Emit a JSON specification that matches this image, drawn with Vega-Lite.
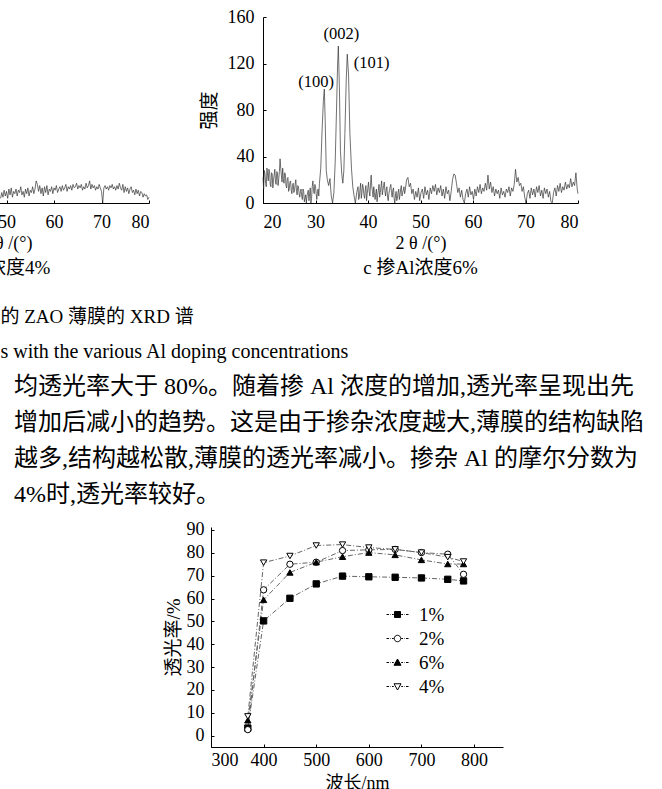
{
"$schema": "https://vega.github.io/schema/vega-lite/v6.json",
"background": "white",
"padding": {"left": -137, "top": 8, "right": 0, "bottom": 0},
"bounds": "flush",
"spacing": 510,
"config": {
  "view": {"stroke": null},
  "axis": {"grid": false, "domainColor": "black", "domainWidth": 1, "tickColor": "black", "tickSize": -3, "labelColor": "black", "labelFont": "Liberation Serif", "labelFontSize": 18, "labelOverlap": false, "titleColor": "black", "titleFont": "Liberation Serif, Noto Sans CJK SC", "titleFontWeight": "normal", "titleFontSize": 18},
  "title": {"color": "black", "subtitleColor": "black", "fontWeight": "normal", "font": "Liberation Serif, Noto Sans CJK SC"}
},
"datasets": {
  "xrdc": [{"t":20,"i":22},{"t":20.25,"i":28},{"t":20.5,"i":17},{"t":20.75,"i":30},{"t":21,"i":19},{"t":21.25,"i":27},{"t":21.5,"i":14},{"t":21.75,"i":25},{"t":22,"i":20},{"t":22.25,"i":29},{"t":22.5,"i":16},{"t":22.75,"i":26},{"t":23,"i":21},{"t":23.25,"i":38},{"t":23.5,"i":24},{"t":23.75,"i":30},{"t":24,"i":17},{"t":24.25,"i":25},{"t":24.5,"i":13},{"t":24.75,"i":22},{"t":25,"i":12},{"t":25.25,"i":19},{"t":25.5,"i":8},{"t":25.75,"i":17},{"t":26,"i":11},{"t":26.25,"i":20},{"t":26.5,"i":7},{"t":26.75,"i":14},{"t":27,"i":5},{"t":27.25,"i":12},{"t":27.5,"i":3},{"t":27.75,"i":10},{"t":28,"i":4},{"t":28.25,"i":0},{"t":28.5,"i":9},{"t":28.75,"i":2},{"t":29,"i":13},{"t":29.25,"i":4},{"t":29.5,"i":19},{"t":29.75,"i":8},{"t":30,"i":14},{"t":30.25,"i":3},{"t":30.5,"i":12},{"t":30.75,"i":17},{"t":31,"i":30},{"t":31.25,"i":62},{"t":31.5,"i":88},{"t":31.68,"i":98},{"t":31.85,"i":70},{"t":32.05,"i":28},{"t":32.25,"i":20},{"t":32.5,"i":15},{"t":32.75,"i":21},{"t":33,"i":6},{"t":33.25,"i":0},{"t":33.5,"i":9},{"t":33.75,"i":35},{"t":34,"i":80},{"t":34.2,"i":118},{"t":34.35,"i":135},{"t":34.55,"i":100},{"t":34.75,"i":45},{"t":35,"i":25},{"t":35.2,"i":17},{"t":35.4,"i":28},{"t":35.6,"i":60},{"t":35.85,"i":105},{"t":36.05,"i":128},{"t":36.3,"i":110},{"t":36.55,"i":60},{"t":36.85,"i":30},{"t":37.1,"i":14},{"t":37.35,"i":6},{"t":37.6,"i":0},{"t":37.85,"i":9},{"t":38.1,"i":14},{"t":38.35,"i":5},{"t":38.6,"i":17},{"t":38.85,"i":9},{"t":39.1,"i":13},{"t":39.35,"i":4},{"t":39.6,"i":15},{"t":39.85,"i":8},{"t":40.1,"i":18},{"t":40.35,"i":6},{"t":40.6,"i":24},{"t":40.85,"i":10},{"t":41.1,"i":14},{"t":41.35,"i":3},{"t":41.6,"i":12},{"t":41.85,"i":7},{"t":42.1,"i":16},{"t":42.35,"i":9},{"t":42.6,"i":19},{"t":42.85,"i":11},{"t":43.1,"i":18},{"t":43.35,"i":6},{"t":43.6,"i":14},{"t":43.85,"i":2},{"t":44.1,"i":11},{"t":44.35,"i":16},{"t":44.6,"i":5},{"t":44.85,"i":13},{"t":45.1,"i":0},{"t":45.35,"i":10},{"t":45.6,"i":4},{"t":45.85,"i":12},{"t":46.1,"i":7},{"t":46.35,"i":15},{"t":46.6,"i":9},{"t":46.85,"i":14},{"t":47.1,"i":11},{"t":47.35,"i":20},{"t":47.6,"i":22},{"t":47.85,"i":14},{"t":48.1,"i":17},{"t":48.35,"i":8},{"t":48.6,"i":12},{"t":48.85,"i":3},{"t":49.1,"i":10},{"t":49.35,"i":5},{"t":49.6,"i":13},{"t":49.85,"i":2},{"t":50.1,"i":9},{"t":50.35,"i":12},{"t":50.6,"i":4},{"t":50.85,"i":14},{"t":51.1,"i":7},{"t":51.35,"i":11},{"t":51.6,"i":3},{"t":51.85,"i":13},{"t":52.1,"i":8},{"t":52.35,"i":15},{"t":52.6,"i":10},{"t":52.85,"i":16},{"t":53.1,"i":7},{"t":53.35,"i":13},{"t":53.6,"i":9},{"t":53.85,"i":15},{"t":54.1,"i":6},{"t":54.35,"i":12},{"t":54.6,"i":4},{"t":54.85,"i":14},{"t":55.1,"i":8},{"t":55.35,"i":11},{"t":55.6,"i":2},{"t":55.85,"i":10},{"t":56.1,"i":20},{"t":56.35,"i":25},{"t":56.6,"i":24},{"t":56.85,"i":17},{"t":57.1,"i":9},{"t":57.35,"i":13},{"t":57.6,"i":5},{"t":57.85,"i":11},{"t":58.1,"i":3},{"t":58.35,"i":0},{"t":58.6,"i":8},{"t":58.85,"i":12},{"t":59.1,"i":5},{"t":59.35,"i":14},{"t":59.6,"i":7},{"t":59.85,"i":10},{"t":60.1,"i":3},{"t":60.35,"i":12},{"t":60.6,"i":6},{"t":60.85,"i":14},{"t":61.1,"i":9},{"t":61.35,"i":16},{"t":61.6,"i":8},{"t":61.85,"i":13},{"t":62.1,"i":10},{"t":62.35,"i":17},{"t":62.6,"i":11},{"t":62.85,"i":24},{"t":63.1,"i":12},{"t":63.35,"i":18},{"t":63.6,"i":9},{"t":63.85,"i":14},{"t":64.1,"i":6},{"t":64.35,"i":12},{"t":64.6,"i":8},{"t":64.85,"i":11},{"t":65.1,"i":4},{"t":65.35,"i":13},{"t":65.6,"i":7},{"t":65.85,"i":10},{"t":66.1,"i":5},{"t":66.35,"i":12},{"t":66.6,"i":9},{"t":66.85,"i":14},{"t":67.1,"i":6},{"t":67.35,"i":13},{"t":67.6,"i":10},{"t":67.85,"i":16},{"t":68.1,"i":29},{"t":68.35,"i":18},{"t":68.6,"i":22},{"t":68.85,"i":15},{"t":69.1,"i":17},{"t":69.35,"i":10},{"t":69.6,"i":14},{"t":69.85,"i":5},{"t":70.1,"i":0},{"t":70.35,"i":8},{"t":70.6,"i":11},{"t":70.85,"i":4},{"t":71.1,"i":13},{"t":71.35,"i":7},{"t":71.6,"i":12},{"t":71.85,"i":5},{"t":72.1,"i":14},{"t":72.35,"i":9},{"t":72.6,"i":15},{"t":72.85,"i":6},{"t":73.1,"i":11},{"t":73.35,"i":4},{"t":73.6,"i":13},{"t":73.85,"i":8},{"t":74.1,"i":12},{"t":74.35,"i":5},{"t":74.6,"i":10},{"t":74.85,"i":1},{"t":75.1,"i":0},{"t":75.35,"i":9},{"t":75.6,"i":13},{"t":75.85,"i":6},{"t":76.1,"i":15},{"t":76.35,"i":10},{"t":76.6,"i":17},{"t":76.85,"i":9},{"t":77.1,"i":14},{"t":77.35,"i":11},{"t":77.6,"i":18},{"t":77.85,"i":12},{"t":78.1,"i":16},{"t":78.35,"i":13},{"t":78.6,"i":21},{"t":78.85,"i":14},{"t":79.1,"i":18},{"t":79.35,"i":15},{"t":79.6,"i":26},{"t":79.85,"i":12},{"t":80,"i":8},
    {"t":20.125,"i":12},{"t":20.375,"i":25},{"t":20.625,"i":14},{"t":20.875,"i":24},{"t":21.125,"i":29},{"t":21.375,"i":16},{"t":21.625,"i":26},{"t":21.875,"i":13},{"t":22.125,"i":24},{"t":22.375,"i":18},{"t":22.625,"i":27},{"t":22.875,"i":15},{"t":23.125,"i":27},{"t":23.375,"i":30},{"t":23.625,"i":18},{"t":23.875,"i":21},{"t":24.125,"i":26},{"t":24.375,"i":15},{"t":24.625,"i":21},{"t":24.875,"i":10},{"t":25.125,"i":18},{"t":25.375,"i":11},{"t":25.625,"i":15},{"t":25.875,"i":9},{"t":26.125,"i":16},{"t":26.375,"i":10},{"t":26.625,"i":15},{"t":26.875,"i":8},{"t":27.125,"i":10},{"t":27.375,"i":6},{"t":27.625,"i":12},{"t":27.875,"i":1},{"t":28.125,"i":7},{"t":28.375,"i":6},{"t":28.625,"i":11},{"t":28.875,"i":8},{"t":29.125,"i":0},{"t":29.375,"i":14},{"t":29.625,"i":11},{"t":29.875,"i":16},{"t":30.125,"i":8},{"t":30.375,"i":10},{"t":30.625,"i":6},
    {"t":38.225,"i":3},{"t":38.475,"i":12},{"t":38.725,"i":4},{"t":38.975,"i":16},{"t":39.225,"i":7},{"t":39.475,"i":11},{"t":39.725,"i":2},{"t":39.975,"i":13},{"t":40.225,"i":10},{"t":40.475,"i":15},{"t":40.725,"i":14},{"t":40.975,"i":5},{"t":41.225,"i":9},{"t":41.475,"i":8},{"t":41.725,"i":1},{"t":41.975,"i":11},{"t":42.225,"i":5},{"t":42.475,"i":14},{"t":42.725,"i":7},{"t":42.975,"i":15},{"t":43.225,"i":10},{"t":43.475,"i":12},{"t":43.725,"i":5},{"t":43.975,"i":8},{"t":44.225,"i":14},{"t":44.475,"i":9},{"t":44.725,"i":11},{"t":44.975,"i":4},{"t":45.225,"i":6},{"t":45.475,"i":2},{"t":45.725,"i":9},{"t":45.975,"i":3},{"t":46.225,"i":12},{"t":46.475,"i":6},{"t":46.725,"i":11},{"t":46.975,"i":8}],
  "xrdb": [{"t":48.75,"i":4},{"t":49,"i":9},{"t":49.25,"i":5},{"t":49.5,"i":11},{"t":49.75,"i":6},{"t":50,"i":10},{"t":50.25,"i":4},{"t":50.5,"i":12},{"t":50.75,"i":7},{"t":51,"i":13},{"t":51.25,"i":5},{"t":51.5,"i":10},{"t":51.75,"i":8},{"t":52,"i":12},{"t":52.25,"i":6},{"t":52.5,"i":11},{"t":52.75,"i":9},{"t":53,"i":14},{"t":53.25,"i":7},{"t":53.5,"i":10},{"t":53.75,"i":5},{"t":54,"i":12},{"t":54.25,"i":8},{"t":54.5,"i":13},{"t":54.75,"i":6},{"t":55,"i":11},{"t":55.25,"i":9},{"t":55.5,"i":14},{"t":55.75,"i":8},{"t":56,"i":12},{"t":56.25,"i":19},{"t":56.5,"i":16},{"t":56.75,"i":10},{"t":57,"i":15},{"t":57.25,"i":8},{"t":57.5,"i":13},{"t":57.75,"i":6},{"t":58,"i":14},{"t":58.25,"i":9},{"t":58.5,"i":15},{"t":58.75,"i":7},{"t":59,"i":12},{"t":59.25,"i":10},{"t":59.5,"i":14},{"t":59.75,"i":8},{"t":60,"i":13},{"t":60.25,"i":11},{"t":60.5,"i":15},{"t":60.75,"i":9},{"t":61,"i":12},{"t":61.25,"i":14},{"t":61.5,"i":10},{"t":61.75,"i":15},{"t":62,"i":11},{"t":62.25,"i":13},{"t":62.5,"i":16},{"t":62.75,"i":10},{"t":63,"i":14},{"t":63.25,"i":12},{"t":63.5,"i":15},{"t":63.75,"i":11},{"t":64,"i":16},{"t":64.25,"i":13},{"t":64.5,"i":14},{"t":64.75,"i":17},{"t":65,"i":12},{"t":65.25,"i":15},{"t":65.5,"i":13},{"t":65.75,"i":16},{"t":66,"i":11},{"t":66.25,"i":14},{"t":66.5,"i":12},{"t":66.75,"i":17},{"t":67,"i":13},{"t":67.25,"i":15},{"t":67.5,"i":19},{"t":67.75,"i":12},{"t":68,"i":16},{"t":68.25,"i":13},{"t":68.5,"i":15},{"t":68.75,"i":11},{"t":69,"i":14},{"t":69.25,"i":12},{"t":69.5,"i":16},{"t":69.75,"i":13},{"t":70,"i":10},{"t":70.25,"i":0},{"t":70.5,"i":13},{"t":70.75,"i":15},{"t":71,"i":12},{"t":71.25,"i":14},{"t":71.5,"i":11},{"t":71.75,"i":15},{"t":72,"i":13},{"t":72.25,"i":16},{"t":72.5,"i":12},{"t":72.75,"i":14},{"t":73,"i":11},{"t":73.25,"i":15},{"t":73.5,"i":12},{"t":73.75,"i":17},{"t":74,"i":13},{"t":74.25,"i":11},{"t":74.5,"i":16},{"t":74.75,"i":9},{"t":75,"i":14},{"t":75.25,"i":10},{"t":75.5,"i":13},{"t":75.75,"i":8},{"t":76,"i":12},{"t":76.25,"i":14},{"t":76.5,"i":9},{"t":76.75,"i":11},{"t":77,"i":7},{"t":77.25,"i":12},{"t":77.5,"i":8},{"t":77.75,"i":11},{"t":78,"i":6},{"t":78.25,"i":10},{"t":78.5,"i":9},{"t":78.75,"i":5},{"t":79,"i":8},{"t":79.25,"i":6},{"t":79.5,"i":7},{"t":79.75,"i":3},{"t":80,"i":5}],
  "peaks": [{"t":30.1,"i":103.7,"label":"(100)"},{"t":34.95,"i":145.4,"label":"(002)"},{"t":40.7,"i":120.2,"label":"(101)"}],
  "trans": [
    {"series":"1%","wl":370,"T":3.3},{"series":"1%","wl":400,"T":50.2},{"series":"1%","wl":450,"T":60.1},{"series":"1%","wl":500,"T":66.4},{"series":"1%","wl":550,"T":69.8},{"series":"1%","wl":600,"T":69.5},{"series":"1%","wl":650,"T":69.3},{"series":"1%","wl":700,"T":69.0},{"series":"1%","wl":750,"T":68.4},{"series":"1%","wl":780,"T":67.7},
    {"series":"2%","wl":370,"T":2.6},{"series":"2%","wl":400,"T":63.8},{"series":"2%","wl":450,"T":75.0},{"series":"2%","wl":500,"T":75.9},{"series":"2%","wl":550,"T":81.0},{"series":"2%","wl":600,"T":81.3},{"series":"2%","wl":650,"T":81.5},{"series":"2%","wl":700,"T":80.1},{"series":"2%","wl":750,"T":79.4},{"series":"2%","wl":780,"T":70.6},
    {"series":"6%","wl":370,"T":6.7},{"series":"6%","wl":400,"T":59.4},{"series":"6%","wl":450,"T":71.4},{"series":"6%","wl":500,"T":75.9},{"series":"6%","wl":550,"T":78.3},{"series":"6%","wl":600,"T":80.1},{"series":"6%","wl":650,"T":79.1},{"series":"6%","wl":700,"T":76.9},{"series":"6%","wl":750,"T":75.1},{"series":"6%","wl":780,"T":75.1},
    {"series":"4%","wl":370,"T":8.4},{"series":"4%","wl":400,"T":75.7},{"series":"4%","wl":450,"T":78.6},{"series":"4%","wl":500,"T":83.2},{"series":"4%","wl":550,"T":83.6},{"series":"4%","wl":600,"T":82.3},{"series":"4%","wl":650,"T":81.5},{"series":"4%","wl":700,"T":80.1},{"series":"4%","wl":750,"T":78.1},{"series":"4%","wl":780,"T":76.2}
  ]
},
"vconcat": [
  {
    "bounds": "flush",
    "spacing": 114,
    "title": {"text": "的 ZAO 薄膜的 XRD 谱", "subtitle": "s with the various Al doping concentrations", "orient": "bottom", "anchor": "start", "dx": 137, "offset": 30, "fontSize": 19, "subtitleFontSize": 20, "subtitleFont": "Liberation Serif", "subtitlePadding": 15},
    "hconcat": [
      {
        "width": 285, "height": 186,
        "data": {"name": "xrdb"},
        "title": {"text": "b 掺Al浓度4%", "orient": "bottom", "anchor": "middle", "frame": "group", "offset": 6.5, "fontSize": 19, "dx": -14},
        "mark": {"type": "line", "stroke": "#333333", "strokeWidth": 0.7},
        "encoding": {
          "x": {"field": "t", "type": "quantitative", "scale": {"domain": [20, 80], "nice": false, "zero": false}, "axis": {"values": [20,30,40,50,60,70,80], "title": "2 θ /(°)", "labelPadding": 13.5, "titlePadding": 2.5}},
          "y": {"field": "i", "type": "quantitative", "scale": {"domain": [0, 160], "nice": false}, "axis": null}
        }
      },
      {
        "width": 315, "height": 186,
        "title": {"text": "c 掺Al浓度6%", "orient": "bottom", "anchor": "middle", "frame": "group", "offset": 6.5, "fontSize": 19},
        "layer": [
          {
            "data": {"name": "xrdc"},
            "mark": {"type": "line", "stroke": "#333333", "strokeWidth": 0.7},
            "encoding": {
              "x": {"field": "t", "type": "quantitative", "scale": {"domain": [20, 80], "nice": false, "zero": false}, "axis": {"values": [20,30,40,50,60,70,80], "title": "2 θ /(°)", "labelPadding": 13.5, "titlePadding": 2.5}},
              "y": {"field": "i", "type": "quantitative", "scale": {"domain": [0, 160], "nice": false}, "axis": {"values": [0,20,40,60,80,100,120,140,160], "title": "强度", "titleFontSize": 19, "titleFont": "Noto Sans CJK SC", "labelPadding": 12, "titlePadding": 7.5}}
            }
          },
          {
            "data": {"name": "peaks"},
            "mark": {"type": "text", "font": "Liberation Serif", "fontSize": 16.5, "color": "black"},
            "encoding": {
              "x": {"field": "t", "type": "quantitative"},
              "y": {"field": "i", "type": "quantitative"},
              "text": {"field": "label"}
            }
          }
        ]
      }
    ]
  },
  {
    "bounds": "flush",
    "spacing": 0,
    "hconcat": [
      {
        "width": 347, "height": 10,
        "data": {"values": [{"s": 0}]},
        "mark": {"type": "point", "opacity": 0}
      },
      {
        "width": 292, "height": 220,
        "data": {"name": "trans"},
        "title": {"text": ["均透光率大于 80%。随着掺 Al 浓度的增加,透光率呈现出先", "增加后减小的趋势。这是由于掺杂浓度越大,薄膜的结构缺陷", "越多,结构越松散,薄膜的透光率减小。掺杂 Al 的摩尔分数为", "4%时,透光率较好。"], "anchor": "start", "frame": "group", "dx": -197, "offset": 14, "fontSize": 24, "lineHeight": 36},
        "encoding": {
          "x": {"field": "wl", "type": "quantitative", "scale": {"domain": [300, 855], "nice": false, "zero": false}, "axis": {"values": [300,400,500,600,700,800], "title": "波长/nm", "labelPadding": 7, "titlePadding": 5}},
          "y": {"field": "T", "type": "quantitative", "scale": {"domain": [-5, 91.3], "nice": false, "zero": false}, "axis": {"values": [0,10,20,30,40,50,60,70,80,90], "title": "透光率/%", "titleFontSize": 19, "labelPadding": 10, "titlePadding": 3}}
        },
        "layer": [
          {
            "mark": {"type": "line", "stroke": "#666666", "strokeWidth": 1, "strokeDash": [5, 2, 1, 2]},
            "encoding": {"detail": {"field": "series", "type": "nominal"}}
          },
          {
            "transform": [{"filter": "datum.series === '1%'"}],
            "mark": {"type": "point", "shape": "square", "filled": true, "fill": "black", "stroke": "black", "strokeWidth": 1, "size": 40, "opacity": 1}
          },
          {
            "transform": [{"filter": "datum.series === '2%'"}],
            "mark": {"type": "point", "shape": "circle", "filled": true, "fill": "white", "stroke": "black", "strokeWidth": 1, "size": 40, "opacity": 1}
          },
          {
            "transform": [{"filter": "datum.series === '6%'"}],
            "mark": {"type": "point", "shape": "triangle-up", "filled": true, "fill": "black", "stroke": "black", "strokeWidth": 1, "size": 40, "opacity": 1}
          },
          {
            "transform": [{"filter": "datum.series === '4%'"}],
            "mark": {"type": "point", "shape": "triangle-down", "filled": true, "fill": "white", "stroke": "black", "strokeWidth": 1, "size": 40, "opacity": 1}
          },
          {
            "data": {"values": []},
            "mark": {"type": "point", "filled": true, "stroke": "black", "strokeWidth": 1, "opacity": 1},
            "encoding": {
              "shape": {"field": "series", "type": "nominal",
                "scale": {"domain": ["1%","2%","6%","4%"], "range": [
                  "M-2.2,0H-1.7M-1.45,0H-1.35M-1.1,0H-0.75M0.75,0H1.1M1.35,0H1.45M1.7,0H2.2M-0.6,-0.6H0.6V0.6H-0.6Z",
                  "M-2.2,0H-1.7M-1.45,0H-1.35M-1.1,0H-0.75M0.75,0H1.1M1.35,0H1.45M1.7,0H2.2M-0.65,0A0.65,0.65,0,1,1,0.65,0A0.65,0.65,0,1,1,-0.65,0Z",
                  "M-2.2,0H-1.7M-1.45,0H-1.35M-1.1,0H-0.75M0.75,0H1.1M1.35,0H1.45M1.7,0H2.2M0,-0.7L0.7,0.55H-0.7Z",
                  "M-2.2,0H-1.7M-1.45,0H-1.35M-1.1,0H-0.75M0.75,0H1.1M1.35,0H1.45M1.7,0H2.2M0,0.7L0.7,-0.55H-0.7Z"
                ]},
                "legend": {"orient": "none", "legendX": 524, "legendY": 588, "title": null, "padding": 0, "rowPadding": 4, "symbolSize": 100, "symbolOffset": 0, "labelOffset": 12, "labelFontSize": 19, "labelFont": "Liberation Serif", "labelColor": "black", "symbolStrokeColor": "black", "symbolStrokeWidth": 1, "symbolOpacity": 1,
                  "encode": {"symbols": {"update": {"stroke": {"value": "black"}, "strokeWidth": {"value": 1}}}}}
              },
              "fill": {"field": "series", "type": "nominal",
                "scale": {"domain": ["1%","2%","6%","4%"], "range": ["black","white","black","white"]},
                "legend": {"orient": "none", "legendX": 524, "legendY": 588, "title": null, "padding": 0, "rowPadding": 4, "symbolSize": 100, "symbolOffset": 0, "labelOffset": 12, "labelFontSize": 19, "labelFont": "Liberation Serif", "labelColor": "black", "symbolStrokeColor": "black", "symbolStrokeWidth": 1, "symbolOpacity": 1,
                  "encode": {"symbols": {"update": {"stroke": {"value": "black"}, "strokeWidth": {"value": 1}}}}}
              }
            }
          }
        ]
      }
    ]
  }
]
}
